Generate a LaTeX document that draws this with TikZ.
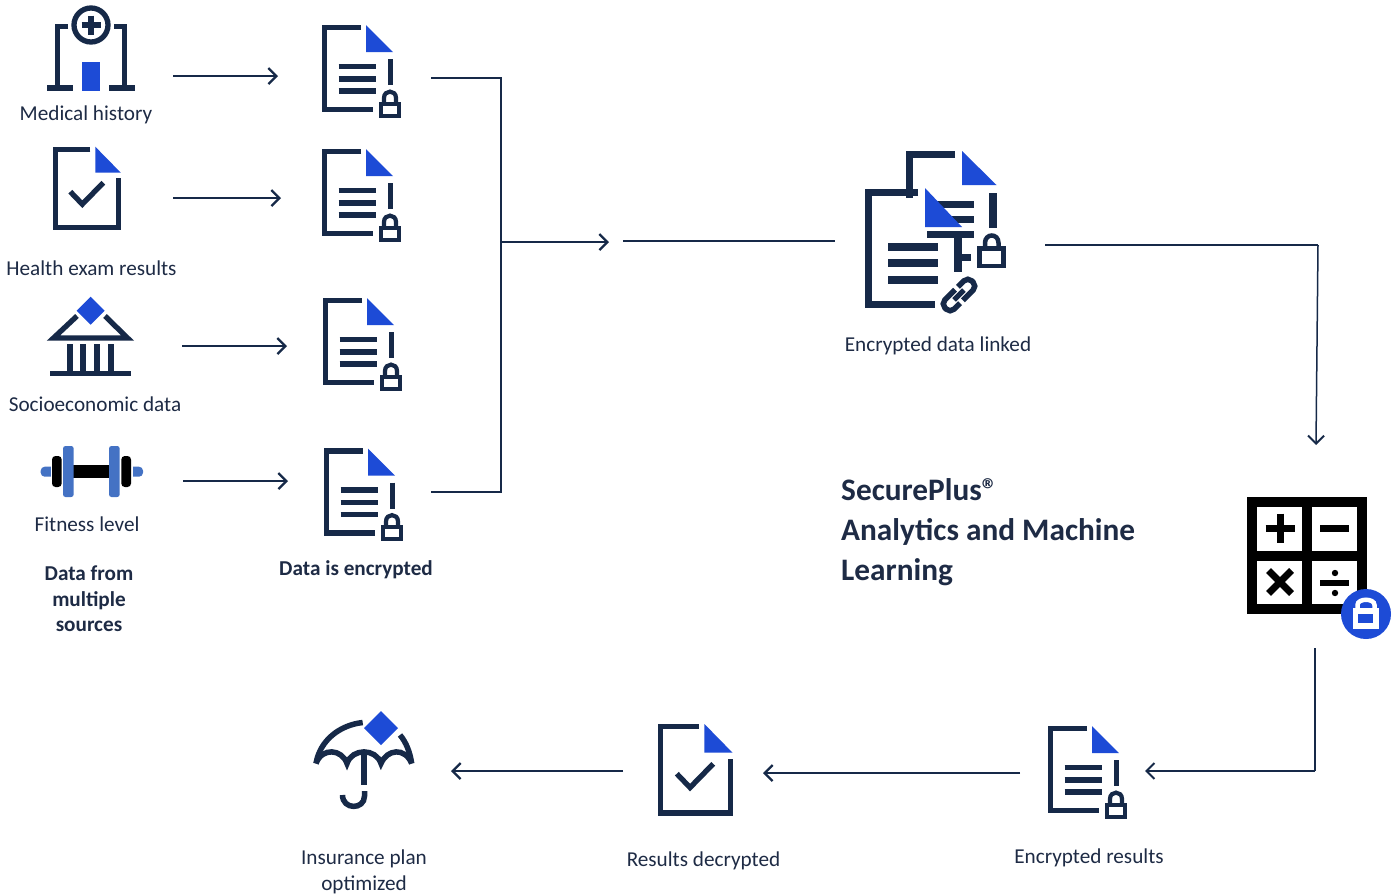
\documentclass[tikz,border=0pt]{standalone}
\usepackage{fontspec}
\setmainfont{Carlito}
\usetikzlibrary{arrows.meta}
\definecolor{navy}{HTML}{162948}
\definecolor{royal}{HTML}{1D4BD6}
\definecolor{plate}{HTML}{4472C4}
\definecolor{inktext}{HTML}{1E2B45}
\tikzset{
  x=1pt,y=-1pt,
  ink/.style={draw=navy,line width=5.3pt,line cap=butt,line join=miter},
  wire/.style={draw=navy,line width=1.2pt},
  flow/.style={draw=navy,line width=2.3pt,-{Straight Barb[length=8pt,width=16pt,line width=2.3pt]}},
  thinflow/.style={draw=navy,line width=1.5pt,-{Straight Barb[length=8pt,width=16pt,line width=2pt]}},
  accent/.style={fill=royal,draw=none},
  zone/.style={inner sep=0pt,outer sep=0pt,draw=none,minimum width=#1,minimum height=10pt},
  lbl/.style={text=inktext,inner sep=0pt,font=\fontsize{21.2}{26}\selectfont},
  blbl/.style={text=inktext,inner sep=0pt,align=center,font=\fontsize{21.2}{25.7}\selectfont\bfseries},
  pics/encdoc/.style={code={
    \draw[ink] (39,2.5)--(2.5,2.5)--(2.5,84.5)--(51,84.5);
    \fill[accent] (44,0)--(71,27)--(44,27)--cycle;
    \draw[ink] (68.5,34)--(68.5,60);
    \draw[ink] (16.5,41.5)--(54,41.5) (16.5,54)--(54,54) (16.5,66)--(54,66);
    \draw[draw=navy,line width=4.2pt] (59,78.7) rectangle (77,90.7);
    \draw[draw=navy,line width=4.2pt] (62,78)--(62,73) .. controls (62,64.5) and (74,64.5) .. (74,73)--(74,78);
  }},
  pics/checkdoc/.style={code={
    \draw[ink] (37,2.5)--(2.5,2.5)--(2.5,80.5)--(65.5,80.5)--(65.5,31.5);
    \fill[accent] (42,0)--(67.5,26)--(42,26)--cycle;
    \draw[ink] (17,45)--(29,57.5)--(50,36);
  }}
}
\begin{document}
\begin{tikzpicture}
\useasboundingbox (0,0) rectangle (1398,895);
\fill[white] (0,0) rectangle (1398,895);

% hospital
\draw[ink] (91,25) circle[radius=17];
\draw[draw=navy,line width=6pt] (81.5,25)--(100.5,25) (91,15.5)--(91,34.5);
\draw[ink] (68,26.5)--(57.5,26.5)--(57.5,88) (47,88)--(73,88);
\draw[ink] (114,26.5)--(124.5,26.5)--(124.5,88) (109,88)--(135,88);
\fill[accent] (82,62) rectangle (100,91);

% health exam doc
\pic at (53.3,146.7) {checkdoc};

% bank
\fill[accent] (90.7,296.7)--(104.7,310.7)--(90.7,324.7)--(76.7,310.7)--cycle;
\draw[ink] (77,316)--(53.5,338)--(127.5,338)--(105,316);
\draw[ink] (70,344)--(70,371) (83,344)--(83,371) (97,344)--(97,371) (111,344)--(111,371);
\draw[ink] (50,373.5)--(131,373.5);

% dumbbell
\fill[black] (73,465) rectangle (110,478);
\fill[plate,rounded corners=2.5pt] (63,446) rectangle (73.7,497);
\fill[plate,rounded corners=2.5pt] (109,446) rectangle (119.7,497);
\fill[plate,rounded corners=4pt] (40.7,466.7) rectangle (55,476.7);
\fill[white] (50.7,466) rectangle (56,477.5);
\fill[plate,rounded corners=4pt] (129,466.7) rectangle (143,476.7);
\fill[white] (127,466) rectangle (133,477.5);
\fill[black,rounded corners=3.5pt] (121.3,456) rectangle (131,487);
\fill[black,rounded corners=3.5pt] (52,456) rectangle (61.7,487);

% encrypted documents
\pic at (322,25) {encdoc};
\pic at (322,149) {encdoc};
\pic at (323,298) {encdoc};
\pic at (324,448.5) {encdoc};
\pic at (1048,726) {encdoc};

% linked documents
\draw[ink,line width=7pt] (955,154.5)--(909,154.5)--(909,197.5);
\fill[accent] (962,151)--(996.5,185)--(962,185)--cycle;
\draw[ink,line width=7.5pt] (993,193)--(993,228);
\draw[ink,line width=7pt] (937,204.2)--(974,204.2) (937,219.5)--(974,219.5) (927,234.8)--(974,234.8);
\draw[ink,line width=7.5pt] (958,238)--(958,272) (958,257.5)--(971,257.5);
\draw[draw=navy,line width=4.5pt] (979.5,248.5) rectangle (1003.5,266);
\draw[draw=navy,line width=4.5pt] (985,248)--(985,243) .. controls (985,233) and (998.5,233) .. (998.5,243)--(998.5,248);
\draw[ink,line width=7pt] (918,192.8)--(868.8,192.8)--(868.8,304.3)--(935,304.3);
\fill[accent] (925,188)--(962,227)--(925,227)--cycle;
\draw[ink,line width=8pt] (888,246.5)--(938,246.5) (888,263)--(938,263) (888,280)--(938,280);
\begin{scope}[shift={(959,295)},rotate=45]
\draw[draw=navy,line width=5.5pt,rounded corners=5.5pt] (1,-6.5)--(-19,-6.5)--(-19,6.5)--(-5,6.5);
\draw[draw=navy,line width=5.5pt,rounded corners=5.5pt] (-1,6.5)--(19,6.5)--(19,-6.5)--(5,-6.5);
\draw[draw=navy,line width=5pt] (-7,0)--(7,0);
\end{scope}

% calculator
\fill[black] (1247,497) rectangle (1367,614);
\fill[white] (1257,507) rectangle (1302,551);
\fill[white] (1312,507) rectangle (1357,551);
\fill[white] (1257,561) rectangle (1302,604);
\fill[white] (1312,561) rectangle (1357,604);
\draw[black,line width=7pt] (1265.5,528)--(1294.5,528) (1280,513.5)--(1280,542.5);
\draw[black,line width=7pt] (1320,528)--(1349,528);
\draw[black,line width=7pt] (1268.5,570.5)--(1291.5,593.5) (1291.5,570.5)--(1268.5,593.5);
\draw[black,line width=6pt] (1320,583)--(1349,583);
\fill[black] (1335,573) circle[radius=3.2];
\fill[black] (1335,593) circle[radius=3.2];
\fill[royal] (1366,614) circle[radius=25];
\draw[white,line width=4.5pt] (1357.5,610)--(1357.5,605) .. controls (1357.5,598) and (1374.5,598) .. (1374.5,605)--(1374.5,610);
\fill[white] (1353,608) rectangle (1379,629);
\fill[royal] (1358,614) rectangle (1373,623);

% umbrella
\fill[accent] (381,711)--(398,728)--(381,745)--(364,728)--cycle;
\draw[draw=navy,line width=5.5pt] (362.7,722.5) .. controls (340,725) and (320,740) .. (316,763.5);
\draw[draw=navy,line width=5.5pt] (400,735) .. controls (406,742) and (410,752) .. (411.7,763.5);
\draw[draw=navy,line width=5.5pt] (316,763.5) .. controls (322,747) and (342,749) .. (347,763.5)
  .. controls (352,748) and (376,748) .. (381,763.5)
  .. controls (387,749) and (405,747) .. (411.7,763.5);
\draw[draw=navy,line width=5.5pt] (364,753)--(364,785);
\draw[draw=navy,line width=5.5pt] (364.5,791)--(364.5,796) .. controls (364.5,810) and (342.5,810) .. (342.5,795);

% results decrypted doc
\pic[scale=1.105] at (658,724) {checkdoc};

% layout zones (empty nodes that carry the connector ends)
\node[zone=164pt] (hosp) at (91,76) {};
\node[zone=181pt] (exam) at (82.5,198) {};
\node[zone=180pt] (bank) at (92,346) {};
\node[zone=180pt] (gym) at (93,481) {};
\node[zone=153pt] (enc1) at (354.5,76) {};
\node[zone=150pt] (enc2) at (356,198) {};
\node[zone=100pt] (enc3) at (337,346) {};
\node[zone=100pt] (enc4in) at (338,481) {};
\node[zone=143pt] (enc4) at (359.5,492) {};
\node[zone=210pt] (link) at (940,243) {};
\node[zone=257pt] (dec) at (891.5,773) {};
\node[zone=172pt] (umb) at (537,771) {};
\coordinate (bushub) at (501,242);
\coordinate (busend) at (609,242);
\coordinate (cloudin) at (623,241);
\coordinate (turn) at (1318,245);
\coordinate (calctop) at (1316,445);
\coordinate (calcout) at (1315,648);
\coordinate (calcturn) at (1315,771);
\coordinate (encresin) at (1145,771);

% connectors
\draw[flow] (hosp.east) -- (enc1.west);
\draw[flow] (exam.east) -- (enc2.west);
\draw[flow] (bank.east) -- (enc3.west);
\draw[flow] (gym.east) -- (enc4in.west);
\draw[wire] ([yshift=-2pt]enc1.east) -- (501,78) -- (501,492) -- (enc4.east);
\draw[flow] (bushub) -- (busend);
\draw[wire] (cloudin) -- ([yshift=2pt]link.west);
\draw[wire] ([yshift=-2pt]link.east) -- (turn);
\draw[thinflow] (turn) -- (calctop);
\draw[wire] (calcout) -- (calcturn);
\draw[thinflow] (calcturn) -- (encresin);
\draw[flow] (dec.east) -- (dec.west);
\draw[flow] (umb.east) -- (umb.west);

% labels
\node[lbl,anchor=base] (t1) at (86,120) {Medical history};
\node[lbl,anchor=base] (t2) at (91.5,275) {Health exam results};
\node[lbl,anchor=base] (t3) at (95,411) {Socioeconomic data};
\node[lbl,anchor=base] (t4) at (87,531) {Fitness level};
\node[blbl,anchor=north] (t5) at (89,565.5) {Data from\\multiple\\sources};
\node[blbl,anchor=base] (t6) at (356,575) {Data is encrypted};
\node[lbl,anchor=base] (t7) at (938,351) {Encrypted data linked};
\node[text=inktext,inner sep=0pt,anchor=north west,align=left,font=\fontsize{31.3}{40}\selectfont\bfseries] (t8) at (841,478.5) {SecurePlus®\\Analytics and Machine\\Learning};
\node[lbl,anchor=base] (t9) at (1089,863) {Encrypted results};
\node[lbl,anchor=base] (t10) at (703.5,866) {Results decrypted};
\node[lbl,anchor=north,align=center] (t11) at (364,850) {Insurance plan\\optimized};
\end{tikzpicture}
\end{document}
